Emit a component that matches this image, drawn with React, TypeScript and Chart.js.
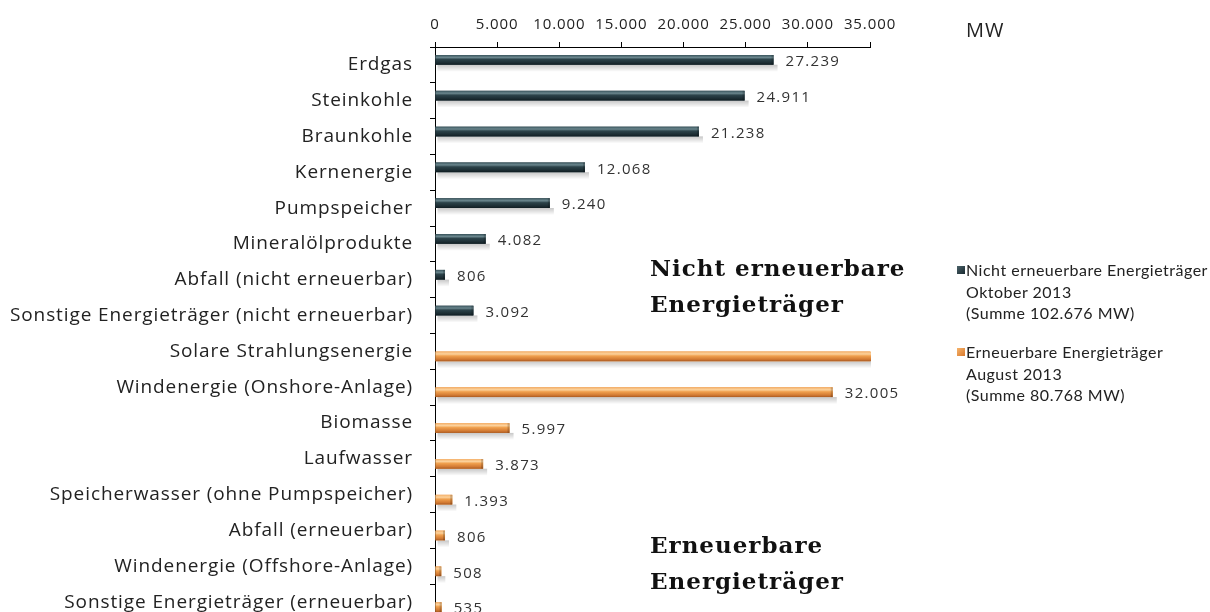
import React, { useEffect, useRef } from "react";
import { Chart, registerables } from "chart.js";

Chart.register(...registerables);

const categories = [
  "Erdgas",
  "Steinkohle",
  "Braunkohle",
  "Kernenergie",
  "Pumpspeicher",
  "Mineralölprodukte",
  "Abfall (nicht erneuerbar)",
  "Sonstige Energieträger (nicht erneuerbar)",
  "Solare Strahlungsenergie",
  "Windenergie (Onshore-Anlage)",
  "Biomasse",
  "Laufwasser",
  "Speicherwasser (ohne Pumpspeicher)",
  "Abfall (erneuerbar)",
  "Windenergie (Offshore-Anlage)",
  "Sonstige Energieträger (erneuerbar)",
];

const nonRenewable: (number | null)[] = [
  27239, 24911, 21238, 12068, 9240, 4082, 806, 3092,
  null, null, null, null, null, null, null, null,
];

const renewable: (number | null)[] = [
  null, null, null, null, null, null, null, null,
  35651, 32005, 5997, 3873, 1393, 806, 508, 535,
];

const xMin = 0;
const xMax = 35000;
const xStep = 5000;

const seriesLabels = [
  ["Nicht erneuerbare Energieträger", "Oktober 2013", "(Summe 102.676 MW)"],
  ["Erneuerbare Energieträger", "August 2013", "(Summe 80.768 MW)"],
];

const unitLabel = "MW";
const groupLabels = [
  ["Nicht erneuerbare", "Energieträger"],
  ["Erneuerbare", "Energieträger"],
];

const fmt = (v: number) =>
  String(Math.round(v)).replace(/\B(?=(\d{3})+(?!\d))/g, ".");

const palettes = [
  {
    base: "#2a3f46",
    stops: [
      [0, "#3b565e"],
      [0.25, "#6a868d"],
      [0.45, "#2c434a"],
      [0.8, "#1c2d33"],
      [1, "#101d22"],
    ],
  },
  {
    base: "#ec9845",
    stops: [
      [0, "#f4b06a"],
      [0.25, "#fcd29c"],
      [0.45, "#f0a04e"],
      [0.8, "#d27a33"],
      [1, "#a95a22"],
    ],
  },
];

const spacing = {
  id: "spacing",
  beforeDraw(chart: any) {
    (chart.ctx as any).letterSpacing = "0.9px";
  },
};

const bar3d = {
  id: "bar3d",
  beforeDatasetsDraw(chart: any) {
    const { ctx, chartArea } = chart;
    ctx.save();
    ctx.beginPath();
    ctx.rect(chartArea.left, chartArea.top, chartArea.width + 1, chartArea.height);
    ctx.clip();
    chart.data.datasets.forEach((ds: any, i: number) => {
      const meta = chart.getDatasetMeta(i);
      meta.data.forEach((el: any, j: number) => {
        if (ds.data[j] == null) return;
        const p = el.getProps(["x", "y", "base", "height"], true);
        const bottom = p.y + p.height / 2;
        const g = ctx.createLinearGradient(0, bottom, 0, bottom + 7);
        g.addColorStop(0, "rgba(0,0,0,0.22)");
        g.addColorStop(1, "rgba(0,0,0,0)");
        ctx.fillStyle = g;
        ctx.fillRect(p.base + 2, bottom, p.x - p.base + 2, 7);
      });
    });
    ctx.restore();
  },
  afterDatasetsDraw(chart: any) {
    const { ctx, chartArea } = chart;
    const max = chart.scales.x.max;
    ctx.save();
    ctx.beginPath();
    ctx.rect(chartArea.left, chartArea.top, chartArea.width + 1, chartArea.height);
    ctx.clip();
    chart.data.datasets.forEach((ds: any, i: number) => {
      const meta = chart.getDatasetMeta(i);
      const pal = palettes[i];
      meta.data.forEach((el: any, j: number) => {
        if (ds.data[j] == null) return;
        const p = el.getProps(["x", "y", "base", "height"], true);
        const top = p.y - p.height / 2;
        const g = ctx.createLinearGradient(0, top, 0, top + p.height);
        pal.stops.forEach((s: any) => g.addColorStop(s[0], s[1]));
        ctx.fillStyle = g;
        ctx.fillRect(p.base, top, p.x - p.base, p.height);
        ctx.fillStyle = "rgba(0,0,0,0.18)";
        ctx.fillRect(p.x - 2, top, 2, p.height);
      });
    });
    ctx.restore();

    ctx.save();
    ctx.font = '15px "Open Sans"';
    (ctx as any).letterSpacing = "1.3px";
    ctx.fillStyle = "#333";
    ctx.textBaseline = "middle";
    ctx.textAlign = "left";
    chart.data.datasets.forEach((ds: any, i: number) => {
      const meta = chart.getDatasetMeta(i);
      meta.data.forEach((el: any, j: number) => {
        const v = ds.data[j];
        if (v == null || v > max) return;
        const p = el.getProps(["x", "y"], true);
        ctx.fillText(fmt(v), p.x + 12, p.y + 2);
      });
    });
    ctx.restore();
  },
};

export default function App() {
  const ref = useRef<HTMLCanvasElement | null>(null);

  useEffect(() => {
    document.body.style.margin = "0";
    const canvas = ref.current!;
    const chart = new Chart(canvas, {
      type: "bar",
      data: {
        labels: categories,
        datasets: [
          {
            label: seriesLabels[0].join(" "),
            data: nonRenewable,
            backgroundColor: palettes[0].base,
            categoryPercentage: 0.56,
            barPercentage: 0.97,
          },
          {
            label: seriesLabels[1].join(" "),
            data: renewable,
            backgroundColor: palettes[1].base,
            categoryPercentage: 0.56,
            barPercentage: 0.97,
          },
        ],
      },
      options: {
        indexAxis: "y",
        responsive: false,
        maintainAspectRatio: false,
        animation: false,
        layout: { padding: { left: 0, top: 0, right: 340, bottom: 10 } },
        plugins: {
          legend: { display: false },
          tooltip: { enabled: false },
        },
        scales: {
          x: {
            position: "top",
            min: xMin,
            max: xMax,
            ticks: {
              stepSize: xStep,
              callback: (v: any) => fmt(Number(v)),
              font: { family: "Open Sans", size: 15 },
              color: "#222",
              padding: 8,
              maxRotation: 0,
              autoSkip: false,
            },
            grid: {
              drawOnChartArea: false,
              tickLength: 5,
              color: "#000",
            },
            border: { color: "#000", width: 1 },
            afterFit: (s: any) => {
              s.height = 47;
              s.paddingLeft = 0;
              s.paddingRight = 0;
            },
          },
          y: {
            ticks: {
              font: { family: "Open Sans", size: 19 },
              color: "#222",
              padding: 17,
              autoSkip: false,
            },
            grid: {
              drawOnChartArea: false,
              tickLength: 5,
              color: "#000",
              offset: true,
            },
            border: { color: "#000", width: 1 },
            afterFit: (s: any) => {
              s.width = 435;
              s.paddingTop = 0;
              s.paddingBottom = 0;
            },
          },
        },
      },
      plugins: [spacing, bar3d],
    } as any);
    return () => chart.destroy();
  }, []);

  const serif = '"DejaVu Serif", serif';
  const sans = '"Lato", "Open Sans", sans-serif';

  return (
    <div
      style={{
        position: "relative",
        width: 1210,
        height: 612,
        overflow: "hidden",
        background: "#fff",
      }}
    >
      <canvas ref={ref} width={1210} height={630} style={{ display: "block" }} />
      <div
        style={{
          position: "absolute",
          left: 966,
          top: 19,
          fontFamily: '"Open Sans", sans-serif',
          fontSize: 20,
          letterSpacing: "1px",
          lineHeight: "22px",
          color: "#222",
        }}
      >
        {unitLabel}
      </div>
      {groupLabels.map((lines, i) => (
        <div
          key={i}
          style={{
            position: "absolute",
            left: 650,
            top: i === 0 ? 250 : 527,
            fontFamily: serif,
            fontWeight: "bold",
            fontSize: 23,
            letterSpacing: "1px",
            lineHeight: "36px",
            color: "#111",
            whiteSpace: "nowrap",
          }}
        >
          {lines.map((l, k) => (
            <div key={k}>{l}</div>
          ))}
        </div>
      ))}
      {seriesLabels.map((lines, i) => (
        <div
          key={i}
          style={{
            position: "absolute",
            left: 957,
            top: i === 0 ? 259 : 341,
            fontFamily: sans,
            fontSize: 16,
            letterSpacing: "0.5px",
            lineHeight: "21.5px",
            color: "#222",
            whiteSpace: "nowrap",
          }}
        >
          <span
            style={{
              position: "absolute",
              left: 0,
              top: 7,
              width: 8,
              height: 8,
              background:
                i === 0
                  ? "linear-gradient(135deg,#4a6168,#1a2a30)"
                  : "linear-gradient(135deg,#f6b46c,#d8782c)",
            }}
          />
          {lines.map((l, k) => (
            <div key={k} style={{ paddingLeft: 9 }}>
              {l}
            </div>
          ))}
        </div>
      ))}
    </div>
  );
}
